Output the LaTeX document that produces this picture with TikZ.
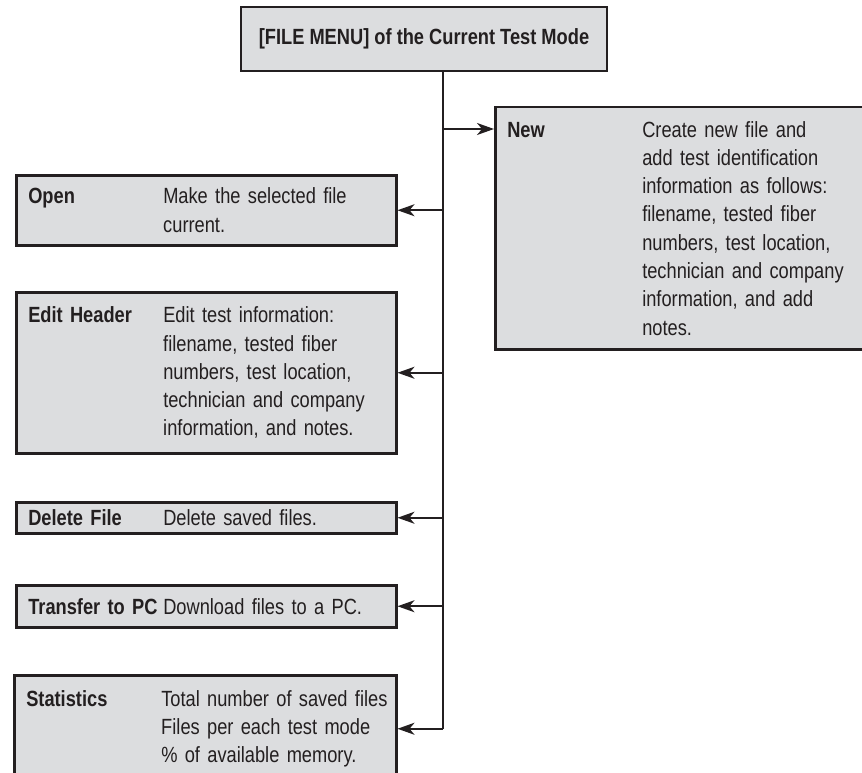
\documentclass[tikz,border=0pt]{standalone}
\usepackage{fontspec}
\setmainfont[FakeStretch=0.83]{Liberation Sans}
\usetikzlibrary{arrows.meta,calc}

\definecolor{boxfill}{HTML}{DCDDDF}
\definecolor{boxline}{HTML}{231F20}

% one menu entry: bold name, then its description
\newcommand{\menuentry}[3][221pt]{%
  \makebox[135pt][l]{\bfseries #2}\parbox[t]{#1}{#3}}

\tikzset{
  menubox/.style={draw=boxline, fill=boxfill, line width=2.5pt,
    inner xsep=12pt, inner ysep=0pt, align=left, anchor=north west,
    text=boxline, font=\fontsize{22}{28.3}\selectfont},
  branch/.style={draw=boxline, line width=1.8pt,
    -{Stealth[length=17pt,width=12pt,inset=5pt]}}
}

\begin{document}
\begin{tikzpicture}[x=1pt, y=-1pt]
    \useasboundingbox (0,0) rectangle (862,773);

    % menu title
    \node[menubox, anchor=center, align=center, minimum width=366pt,
          minimum height=64pt, font=\fontsize{22}{28}\selectfont\bfseries]
        (title) at (424,39) {[FILE MENU] of the Current Test Mode};

    % right branch
    \node[menubox, text width=357pt, minimum height=242pt] (new) at (494,106)
        {\menuentry{New}{Create new file and\\add test identification\\information as follows:\\filename, tested fiber\\numbers, test location,\\technician and company\\information, and add\\notes.}};

    % left branches
    \node[menubox, text width=356pt, minimum height=70pt] (open) at (15,174)
        {\menuentry{Open}{Make the selected file\\current.}};
    \node[menubox, text width=356pt, minimum height=161pt] (edit) at (15,291)
        {\menuentry{Edit Header}{Edit test information:\\filename, tested fiber\\numbers, test location,\\technician and company\\information, and notes.}};
    \node[menubox, text width=356pt, minimum height=31pt] (delete) at (15,501)
        {\menuentry{Delete File}{Delete saved files.}};
    \node[menubox, text width=356pt, minimum height=42pt] (transfer) at (15,584)
        {\menuentry{Transfer to PC}{Download files to a PC.}};
    \node[menubox, text width=358pt, minimum height=107pt] (stats) at (13,674)
        {\menuentry[240pt]{Statistics}{Total number of saved files\\Files per each test mode\\\% of available memory.}};

    % spine and arrows
    \coordinate (spine) at (443,0);
    \coordinate (newin) at ($(new.north west)+(0,23)$);
    \draw[boxline, line width=2pt] (title.south -| spine) -- (spine |- stats.east);
    \draw[branch] (spine |- newin) -- (newin);
    \foreach \item in {open,edit,delete,transfer,stats}
        \draw[branch] (spine |- \item.east) -- (\item.east);

\end{tikzpicture}
\end{document}
